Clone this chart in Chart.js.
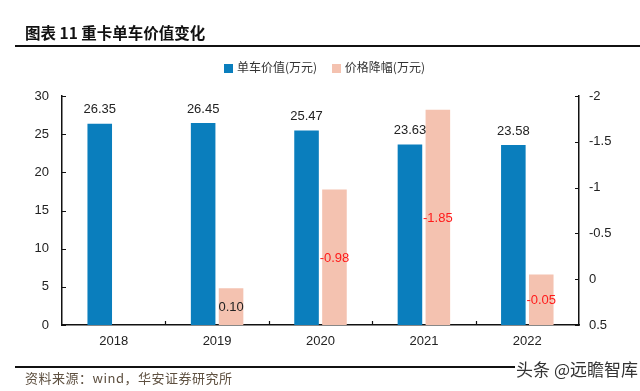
<!DOCTYPE html>
<html>
    <head>
        <meta charset="UTF-8" />
        <title>重卡单车价值变化</title>
        <script src="https://cdn.jsdelivr.net/npm/chart.js@4.4.2/dist/chart.umd.min.js"></script>
        <style>
            body {
                margin: 0;
                background: #fff;
                font-family: "Noto Sans CJK SC", sans-serif;
            }
            .wrap {
                position: relative;
                width: 640px;
                height: 391px;
                overflow: hidden;
            }
            #chart {
                position: absolute;
                left: 0;
                top: 0;
            }
            .title {
                position: absolute;
                left: 25px;
                top: 22px;
                font-size: 15.5px;
                font-weight: bold;
                color: #111;
                line-height: 20px;
            }
            .topline {
                position: absolute;
                left: 15px;
                top: 45px;
                width: 625px;
                height: 2px;
                background: #111;
            }
            .legend {
                position: absolute;
                top: 59px;
                left: 224px;
                font-size: 12px;
                color: #333;
                line-height: 16px;
                white-space: nowrap;
            }
            .legend span.box {
                display: inline-block;
                width: 9px;
                height: 9px;
                margin-right: 4px;
                vertical-align: -1px;
            }
            .legend span.item {
                margin-right: 12px;
            }
            .bottomline {
                position: absolute;
                left: 15px;
                top: 366px;
                width: 500px;
                height: 1.5px;
                background: #111;
            }
            .source {
                position: absolute;
                left: 25px;
                top: 369px;
                font-size: 13px;
                color: #5e5040;
                line-height: 18px;
                letter-spacing: 0.5px;
            }
            .mark {
                position: absolute;
                right: 2px;
                top: 358px;
                font-size: 17px;
                color: #333;
                line-height: 22px;
                text-shadow: 0 0 2px #fff, 0 0 2px #fff;
            }
        </style>
    </head>
    <body>
        <div class="wrap">
            <canvas id="chart" width="640" height="391"></canvas>
            <div class="title">图表 11 重卡单车价值变化</div>
            <div class="topline"></div>
            <div class="legend">
                <span class="item"><span class="box" style="background: #0a7ebd"></span>单车价值(万元)</span>
                <span class="item"><span class="box" style="background: #f4c2b0"></span>价格降幅(万元)</span>
            </div>
            <div class="bottomline"></div>
            <div class="source">资料来源：wind，华安证券研究所</div>
            <div class="mark">头条 @远瞻智库</div>
        </div>

        <script>
            // --- data ---
            var years = ["2018", "2019", "2020", "2021", "2022"];
            var unitValue = [26.35, 26.45, 25.47, 23.63, 23.58];
            var priceDrop = [null, 0.1, -0.98, -1.85, -0.05];
            var leftTicks = [0, 5, 10, 15, 20, 25, 30];
            var rightTicks = [-2, -1.5, -1, -0.5, 0, 0.5];

            var BLUE = "#0a7ebd";
            var PINK = "#f4c2b0";
            var AXIS = "#111";

            // value labels + inward tick marks
            var extras = {
                id: "extras",
                afterDatasetsDraw: function (chart) {
                    var ctx = chart.ctx;
                    ctx.save();
                    ctx.font = "13px 'Liberation Sans', Arial, sans-serif";
                    ctx.textAlign = "center";
                    ctx.textBaseline = "middle";

                    chart.getDatasetMeta(0).data.forEach(function (bar, i) {
                        ctx.fillStyle = "#222";
                        ctx.fillText(unitValue[i].toFixed(2), bar.x, bar.y - 14);
                    });

                    chart.getDatasetMeta(1).data.forEach(function (bar, i) {
                        var v = priceDrop[i];
                        if (v === null) return;
                        ctx.fillStyle = v < 0 ? "#ff1a1a" : "#222";
                        ctx.fillText(v.toFixed(2), bar.x, (bar.y + bar.base) / 2 + 1);
                    });

                    // inward ticks
                    var area = chart.chartArea;
                    ctx.strokeStyle = AXIS;
                    ctx.lineWidth = 1.2;
                    ctx.beginPath();
                    var yl = chart.scales.y;
                    leftTicks.forEach(function (t) {
                        var p = Math.round(yl.getPixelForValue(t)) + 0.5;
                        ctx.moveTo(area.left, p);
                        ctx.lineTo(area.left + 4, p);
                    });
                    var yr = chart.scales.y2;
                    rightTicks.forEach(function (t) {
                        var p = Math.round(yr.getPixelForValue(t)) + 0.5;
                        ctx.moveTo(area.right, p);
                        ctx.lineTo(area.right - 4, p);
                    });
                    var step = (area.right - area.left) / years.length;
                    for (var k = 1; k < years.length; k++) {
                        var px = Math.round(area.left + step * k) + 0.5;
                        ctx.moveTo(px, area.bottom);
                        ctx.lineTo(px, area.bottom - 4);
                    }
                    ctx.stroke();
                    ctx.restore();
                },
            };

            var tickFont = { family: "'Liberation Sans', Arial, sans-serif", size: 13 };

            new Chart(document.getElementById("chart"), {
                type: "bar",
                plugins: [extras],
                data: {
                    labels: years,
                    datasets: [
                        {
                            label: "单车价值(万元)",
                            data: unitValue,
                            backgroundColor: BLUE,
                            yAxisID: "y",
                            barPercentage: 0.88,
                            categoryPercentage: 0.54,
                        },
                        {
                            label: "价格降幅(万元)",
                            data: priceDrop,
                            backgroundColor: PINK,
                            yAxisID: "y2",
                            base: 0.5,
                            barPercentage: 0.88,
                            categoryPercentage: 0.54,
                        },
                    ],
                },
                options: {
                    responsive: false,
                    animation: false,
                    layout: { padding: { top: 96, left: 0, right: 0, bottom: 0 } },
                    plugins: {
                        legend: { display: false },
                        tooltip: { enabled: false },
                    },
                    scales: {
                        x: {
                            grid: { display: false, drawTicks: false },
                            border: { color: AXIS, width: 1.5 },
                            ticks: { color: "#222", font: tickFont, padding: 9 },
                            afterFit: function (scale) {
                                scale.height = 66;
                            },
                        },
                        y: {
                            position: "left",
                            min: 0,
                            max: 30,
                            grid: { display: false, drawTicks: false },
                            border: { color: AXIS, width: 1.5 },
                            ticks: { stepSize: 5, color: "#222", font: tickFont, padding: 13 },
                            afterFit: function (scale) {
                                scale.width = 62;
                            },
                        },
                        y2: {
                            position: "right",
                            reverse: true,
                            min: -2,
                            max: 0.5,
                            grid: { display: false, drawTicks: false },
                            border: { color: AXIS, width: 1.5 },
                            ticks: {
                                stepSize: 0.5,
                                color: "#222",
                                font: tickFont,
                                padding: 10,
                                callback: function (value) {
                                    return String(Math.round(value * 10) / 10);
                                },
                            },
                            afterFit: function (scale) {
                                scale.width = 61;
                            },
                        },
                    },
                },
            });
        </script>
    </body>
</html>
